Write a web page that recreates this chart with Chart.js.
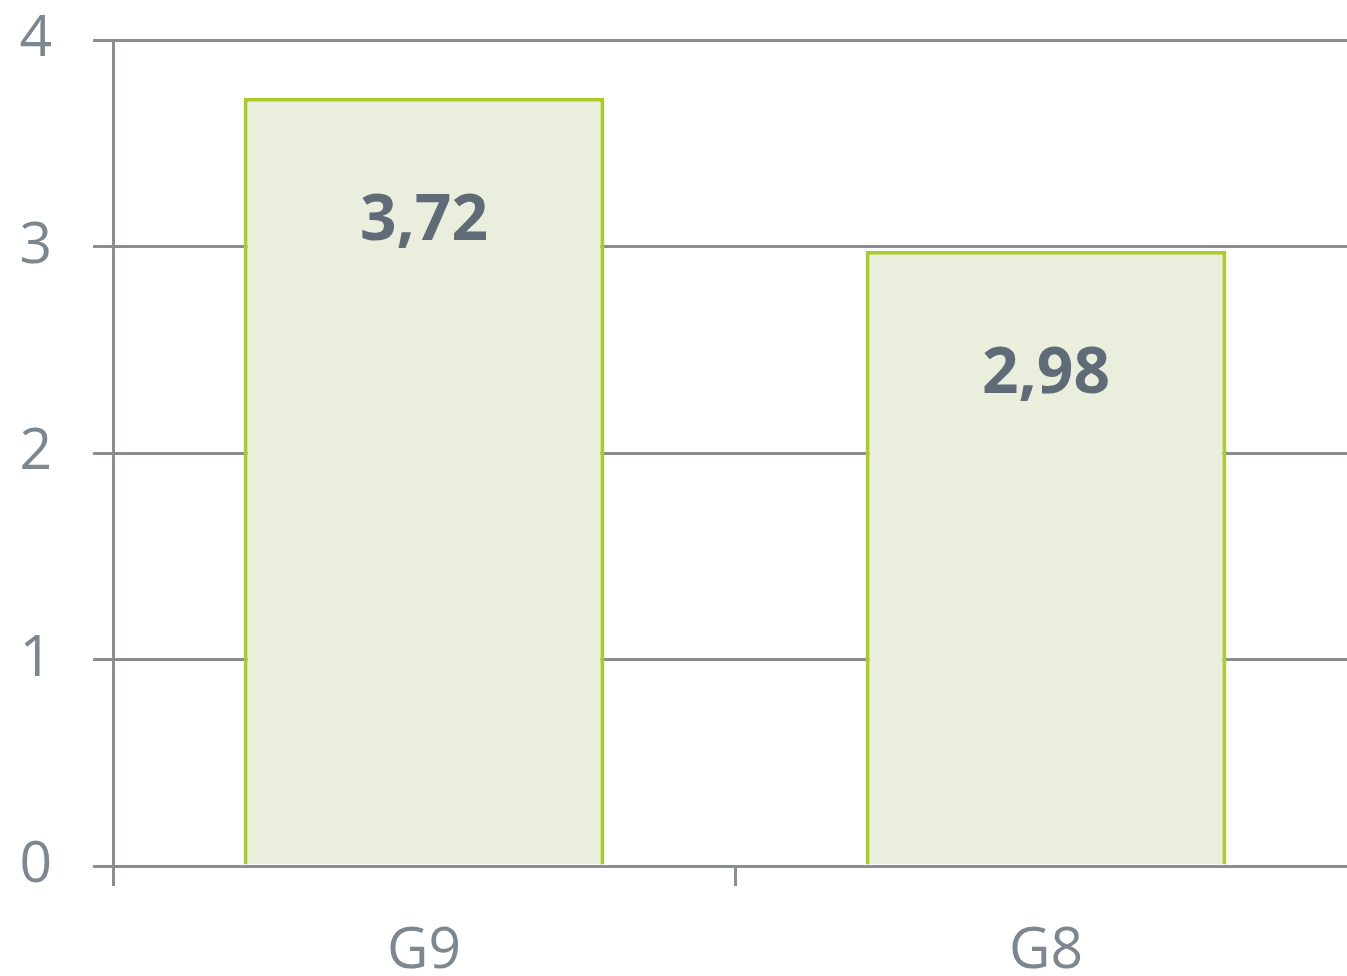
<!DOCTYPE html>
<html>
<head>
<meta charset="utf-8">
<script src="https://cdn.jsdelivr.net/npm/chart.js@4"></script>
<style>
  html, body { margin: 0; padding: 0; background: #fff; overflow: hidden; }
  #wrap { width: 1360px; height: 976px; }
</style>
</head>
<body>
<div id="wrap"><canvas id="barChart"></canvas></div>
<script>
const categories = ['G9', 'G8'];
const values = [3.72, 2.98];
const yTicks = [0, 1, 2, 3, 4];

const axisGrey = '#8a8e93';
const textGrey = '#7d8790';

const valueLabels = {
    id: 'valueLabels',
    afterDatasetsDraw(chart) {
        const { ctx } = chart;
        const meta = chart.getDatasetMeta(0);
        ctx.save();
        ctx.font = 'bold 64px "Open Sans"';
        ctx.fillStyle = '#5f6b77';
        ctx.textAlign = 'center';
        ctx.textBaseline = 'middle';
        meta.data.forEach((bar, i) => {
            const txt = values[i].toFixed(2).replace('.', ',');
            ctx.fillText(txt, bar.x, bar.y + 124);
        });
        ctx.restore();
    }
};

new Chart(document.getElementById('barChart'), {
    type: 'bar',
    data: {
        labels: categories,
        datasets: [{
            data: values,
            backgroundColor: '#e9eedd',
            borderColor: '#a9cc2b',
            borderWidth: 4,
            categoryPercentage: 1,
            barPercentage: 0.58
        }]
    },
    options: {
        responsive: true,
        maintainAspectRatio: false,
        animation: false,
        layout: { padding: { top: 40, left: 0, right: 3, bottom: 0 } },
        plugins: { legend: { display: false }, tooltip: { enabled: false } },
        scales: {
            x: {
                z: 1,
                afterFit: (scale) => { scale.height = 110; },
                grid: { drawOnChartArea: false, offset: true, tickLength: 20, color: axisGrey, lineWidth: 3 },
                border: { display: true, color: axisGrey, width: 3 },
                ticks: { color: textGrey, padding: 32, font: { family: '"Open Sans"', size: 57 } }
            },
            y: {
                min: yTicks[0],
                max: yTicks[yTicks.length - 1],
                afterFit: (scale) => { scale.width = 113; scale.paddingTop = 0; scale.paddingBottom = 0; },
                afterBuildTicks: (scale) => { scale.ticks = yTicks.map(v => ({ value: v })); },
                grid: { tickLength: 20, color: axisGrey, lineWidth: 3 },
                border: { display: true, color: axisGrey, width: 3 },
                ticks: { color: textGrey, padding: 41, font: { family: '"Open Sans"', size: 57 } }
            }
        }
    },
    plugins: [valueLabels]
});
</script>
</body>
</html>
